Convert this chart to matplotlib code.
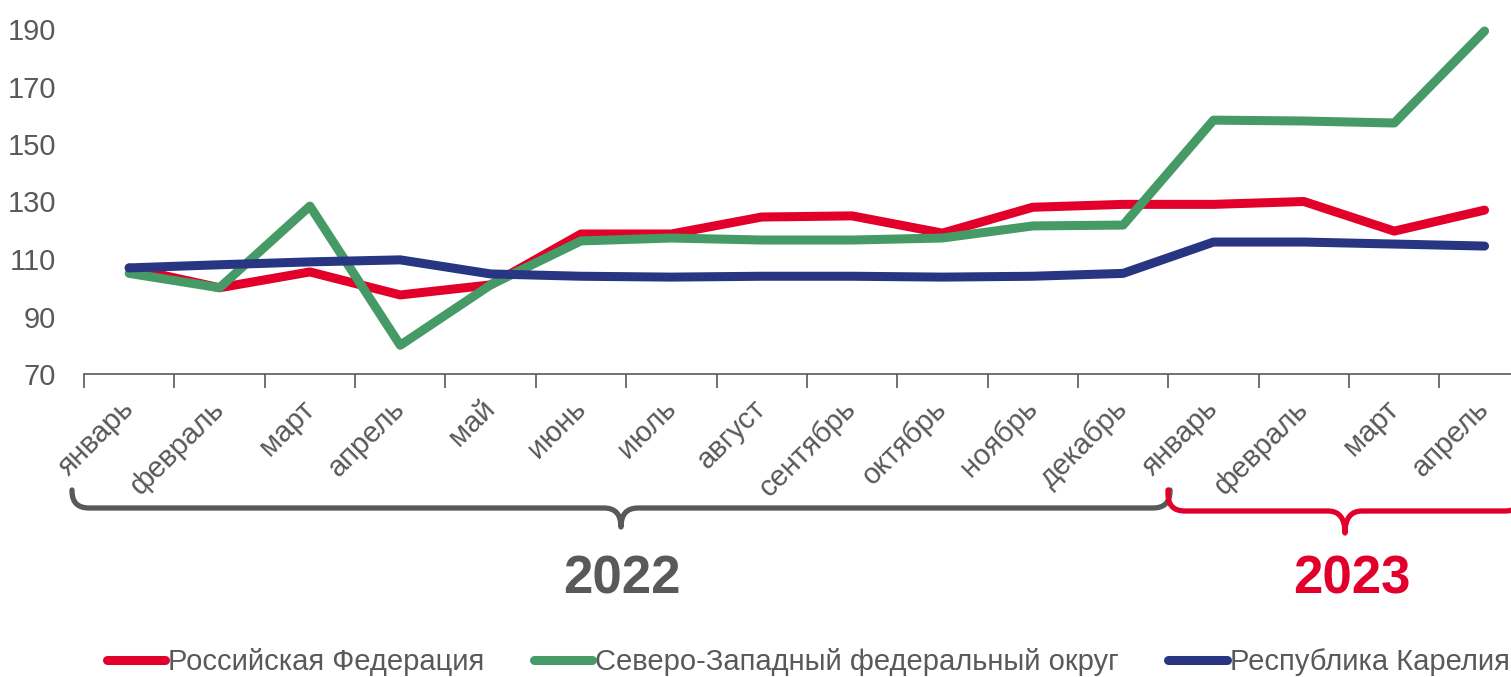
import matplotlib.pyplot as plt
import matplotlib.transforms as mtransforms
from matplotlib.path import Path
from matplotlib.patches import PathPatch

plt.rcParams['font.family'] = ['Liberation Sans', 'DejaVu Sans']

# Data
months = ["январь", "февраль", "март", "апрель", "май", "июнь", "июль", "август",
          "сентябрь", "октябрь", "ноябрь", "декабрь", "январь", "февраль", "март", "апрель"]
russia = [106.9, 100.0, 105.5, 97.5, 101.0, 118.7, 118.7, 124.6,
          125.0, 119.0, 128.0, 129.0, 129.0, 130.0, 119.7, 127.0]
nwfd = [105.0, 100.0, 128.4, 80.0, 101.0, 116.3, 117.3, 116.6,
        116.6, 117.3, 121.5, 121.8, 158.3, 158.0, 157.3, 189.3]
karelia = [106.9, 108.0, 109.0, 109.7, 104.8, 104.0, 103.7, 104.0,
           104.0, 103.7, 104.0, 105.0, 115.9, 115.9, 115.2, 114.5]
series_names = ["Российская Федерация", "Северо-Западный федеральный округ", "Республика Карелия"]
years = ["2022", "2023"]
yticks = [70, 90, 110, 130, 150, 170, 190]

gray = "#595959"
colors = ["#E2002B", "#459A66", "#283583"]

W, H = 1511, 677
fig = plt.figure(figsize=(W / 100, H / 100), dpi=100)
ax = fig.add_axes([84 / W, 303 / H, (1529.75 - 84) / W, 345 / H])

x = list(range(len(months)))
for vals, name, c in zip([russia, nwfd, karelia], series_names, colors):
    ax.plot(x, vals, color=c, linewidth=6.5, label=name, solid_capstyle='round',
            solid_joinstyle='round', clip_on=False)

ax.set_xlim(-0.5, len(months) - 0.5)
ax.set_ylim(70, 190)
ax.set_yticks(yticks)
ax.set_yticklabels([str(v) for v in yticks], fontsize=21, color=gray)
ax.tick_params(axis='y', length=0, pad=20)

ax.set_xticks([i + 0.5 for i in range(-1, len(months))], minor=True)
ax.set_xticks(x)
ax.set_xticklabels(months, rotation=45, ha='right', va='center', rotation_mode='anchor',
                   fontsize=21, color=gray)
shift = mtransforms.ScaledTranslation(0.17, 0, fig.dpi_scale_trans)
for lab in ax.get_xticklabels():
    lab.set_transform(lab.get_transform() + shift)
ax.tick_params(axis='x', which='major', length=0, pad=22)
ax.tick_params(axis='x', which='minor', length=10, width=1.2, color=gray)

for s in ["top", "right", "left"]:
    ax.spines[s].set_visible(False)
ax.spines["bottom"].set_color(gray)
ax.spines["bottom"].set_linewidth(1.2)

# Overlay in pixel coordinates for braces
ov = fig.add_axes([0, 0, 1, 1])
ov.set_xlim(0, W)
ov.set_ylim(H, 0)
ov.axis("off")


def brace(x0, x1, ytop, yh, ytip, color, r=17):
    xm = (x0 + x1) / 2
    verts = [(x0, ytop), (x0, yh - r), (x0, yh), (x0 + r, yh),
             (xm - r, yh), (xm, yh), (xm, ytip),
             (xm, yh), (xm + r, yh),
             (x1 - r, yh), (x1, yh), (x1, yh - r), (x1, ytop)]
    codes = [Path.MOVETO, Path.LINETO, Path.CURVE3, Path.CURVE3,
             Path.LINETO, Path.CURVE3, Path.CURVE3,
             Path.CURVE3, Path.CURVE3,
             Path.LINETO, Path.CURVE3, Path.CURVE3, Path.LINETO]
    ov.add_patch(PathPatch(Path(verts, codes), fill=False, edgecolor=color,
                           linewidth=3.8, capstyle='round', joinstyle='round'))


brace(72, 1170, 490, 508, 527, gray)
brace(1168, 1522, 490, 511, 533, colors[0])
ov.text(622, 580, years[0], ha='center', va='center', fontsize=38, fontweight='bold', color=gray)
ov.text(1352, 580, years[1], ha='center', va='center', fontsize=38, fontweight='bold', color=colors[0])

handles, labels = ax.get_legend_handles_labels()
fig.legend(handles, labels, loc='center', bbox_to_anchor=(808 / W, 1 - 662 / H), ncol=3,
           frameon=False, fontsize=21, labelcolor=gray, handlelength=2.0,
           handletextpad=0.1, columnspacing=1.7, borderaxespad=0)

fig.savefig("out.png", dpi=100)
